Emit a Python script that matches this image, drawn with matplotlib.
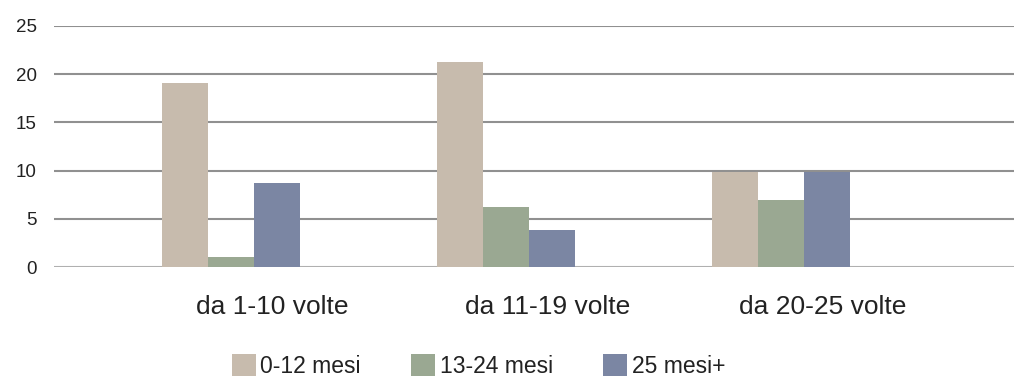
import matplotlib
matplotlib.use("Agg")
import matplotlib.pyplot as plt
import numpy as np

categories = ["da 1-10 volte", "da 11-19 volte", "da 20-25 volte"]
series_names = ["0-12 mesi", "13-24 mesi", "25 mesi+"]
s_0_12 = [19.1, 21.3, 9.9]
s_13_24 = [1.0, 6.2, 7.0]
s_25_plus = [8.7, 3.8, 9.9]
yticks = [0, 5, 10, 15, 20, 25]

colors = ["#c7bbad", "#9aa892", "#7b86a3"]
plt.rcParams['font.family'] = ['Liberation Sans', 'DejaVu Sans']

fig = plt.figure(figsize=(10.14, 3.79), dpi=100)
ax = fig.add_axes([54/1014, 112/379, 960/1014, 241/379])

x = np.arange(len(categories))
w = 46/275
values = [s_0_12, s_13_24, s_25_plus]
for k, (vals, c, name) in enumerate(zip(values, colors, series_names)):
    ax.bar(x + (k - 1) * w, vals, width=w, color=c, label=name, linewidth=0, zorder=3)

ax.set_ylim(0, 25)
ax.set_xlim(-0.644, 2.847)
ax.set_yticks(yticks)
ax.set_yticklabels([str(t) for t in yticks], fontsize=13.5, color="#222222")
for t in yticks:
    ax.axhline(t, color="#b0b0b0" if t == 0 else "#909090", linewidth=1.5, zorder=1)
ax.set_xticks(x + 0.15)
ax.set_xticklabels(categories, fontsize=19, color="#222222")
ax.tick_params(axis='x', length=0, pad=20)
ax.tick_params(axis='y', length=0, pad=12.5)
for s in ax.spines.values():
    s.set_visible(False)

fig.legend(loc="center", bbox_to_anchor=(478.5/1014, 13/379), ncol=3, frameon=False,
           fontsize=16.5, handlelength=1.05, handleheight=1.05, handletextpad=0.2,
           columnspacing=2.2, labelcolor="#222222")

fig.savefig("out.png", dpi=100)
